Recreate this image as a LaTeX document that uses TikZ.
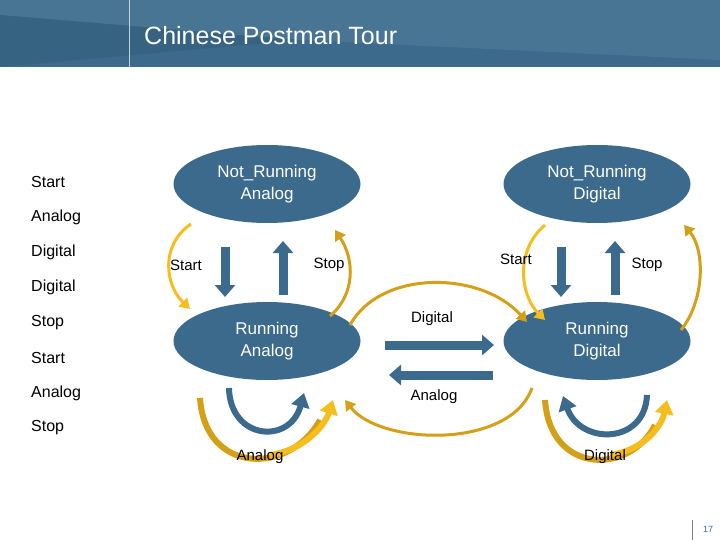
\documentclass[tikz,border=0pt]{standalone}
\usepackage{fontspec}
\setmainfont{Liberation Sans}
\usetikzlibrary{arrows.meta,shapes.geometric}
\definecolor{st}{HTML}{3B6A8C}
\definecolor{yl}{HTML}{F5BE1E}
\definecolor{dy}{HTML}{D4A017}
\begin{document}
\begin{tikzpicture}[x=1pt,y=-1pt,
  state/.style={ellipse,fill=st,text=white,minimum width=187pt,minimum height=78pt,align=center,font=\fontsize{17}{22}\selectfont,inner sep=0pt},
  lbl/.style={font=\fontsize{16}{18}\selectfont,anchor=west,inner sep=0pt},
  sl/.style={font=\fontsize{15}{17}\selectfont,inner sep=0pt},
  blu/.style={st,line width=9pt,-{Triangle[length=12pt,width=20pt]}},
  yel/.style={yl,line width=3pt,-{Triangle[length=10pt,width=12pt]}},
  dyel/.style={dy,line width=3pt,-{Triangle[length=10pt,width=12pt]}},
  thk/.style={line width=6pt,-{Triangle[length=14pt,width=18pt]}}]
\useasboundingbox (0,0) rectangle (720,540);
\fill[st] (0,0) rectangle (720,67);
\fill[st!85!white,opacity=0.5] (0,0) -- (720,0) -- (720,60) -- (300,40) -- (0,15) -- cycle;
\fill[st!80!black,opacity=0.3] (0,15) -- (300,40) -- (0,67) -- cycle;
\draw[white!70!st,line width=0.5pt] (129,0) -- (129,67);
\node[anchor=west,text=white,font=\fontsize{25}{28}\selectfont,inner sep=0pt] (title) at (144,36) {Chinese Postman Tour};
\node[lbl] (l1) at (31,182) {Start};
\node[lbl] (l2) at (31,217) {Analog};
\node[lbl] (l3) at (31,252) {Digital};
\node[lbl] (l4) at (31,287) {Digital};
\node[lbl] (l5) at (31,323) {Stop};
\node[lbl] (l6) at (31,358) {Start};
\node[lbl] (l7) at (31,393) {Analog};
\node[lbl] (l8) at (31,428) {Stop};
\node[state] (nra) at (267,184) {Not\_Running\\Analog};
\node[state] (nrd) at (597,184) {Not\_Running\\Digital};
\node[state] (ra) at (267,341) {Running\\Analog};
\node[state] (rd) at (597,341) {Running\\Digital};
% straight arrows
\coordinate (a1) at (225,247); \coordinate (a2) at (225,297);
\coordinate (a3) at (283,295); \coordinate (a4) at (283,241);
\draw[blu] (a1) -- (a2); \draw[blu] (a3) -- (a4);
\coordinate (b1) at (561,247); \coordinate (b2) at (561,297);
\coordinate (b3) at (615,295); \coordinate (b4) at (615,241);
\draw[blu] (b1) -- (b2); \draw[blu] (b3) -- (b4);
\coordinate (c1) at (385,345); \coordinate (c2) at (494,345);
\coordinate (c3) at (493,375); \coordinate (c4) at (389,375);
\draw[blu] (c1) -- (c2); \draw[blu] (c3) -- (c4);
% yellow curves
\draw[yel] (191,224) .. controls (160,245) and (165,285) .. (190,309);
\draw[dyel] (330,316) .. controls (355,295) and (355,260) .. (335,230);
\draw[dyel] (350,325) .. controls (380,270) and (480,270) .. (527,322);
\draw[dyel] (532,388) .. controls (510,450) and (380,445) .. (345,400);
\draw[yel] (545,225) .. controls (515,250) and (520,295) .. (545,320);
\draw[dyel] (681,330) .. controls (705,300) and (705,250) .. (684,225);
% bottom loops left
\draw[dy,line width=6pt] (200,398) .. controls (205,475) and (290,475) .. (320,420);
\draw[yl,thk] (270,455) .. controls (305,450) and (325,425) .. (333,400);
\draw[st,thk] (229,388) .. controls (230,440) and (290,445) .. (304,393);
% bottom loops right
\draw[dy,line width=6pt] (545,400) .. controls (550,475) and (630,475) .. (655,425);
\draw[yl,thk] (610,455) .. controls (645,450) and (662,425) .. (667,400);
\draw[st,thk] (647,395) .. controls (645,445) and (580,445) .. (563,396);
% labels
\node[sl] (s1) at (186,265) {Start};
\node[sl] (s2) at (329,265) {Stop};
\node[sl] (s3) at (516,259) {Start};
\node[sl] (s4) at (647,265) {Stop};
\node[sl] (d1) at (432,319) {Digital};
\node[sl] (d2) at (434,397) {Analog};
\node[sl] (d3) at (260,457) {Analog};
\node[sl] (d4) at (605,457) {Digital};
\draw[gray] (692,520) -- (692,540);
\node[font=\fontsize{9}{10}\selectfont,text=st] (pg) at (708,529) {17};
\end{tikzpicture}
\end{document}
